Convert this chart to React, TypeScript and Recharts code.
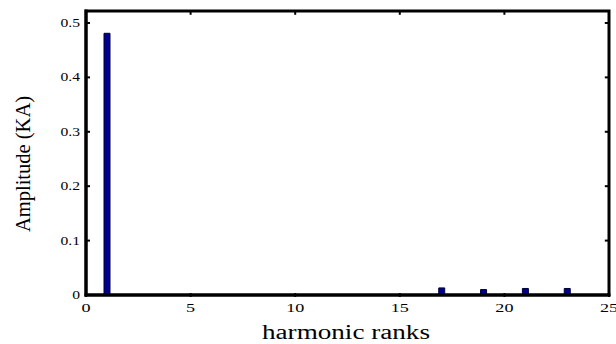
import React from 'react';
import { BarChart, Bar, XAxis, YAxis, Label, ReferenceArea, ReferenceLine } from 'recharts';

// harmonic spectrum: rank -> amplitude in kA
const ranks = [1, 17, 19, 21, 23];
const amplitudes = [0.481, 0.013, 0.01, 0.012, 0.012];
const xTicks = [0, 5, 10, 15, 20, 25];
const yTicks = [0, 0.1, 0.2, 0.3, 0.4, 0.5];

const X_MAX = 25;
const Y_MAX = 0.522;

const data = ranks.map((rank, i) => ({ rank, amp: amplitudes[i] }));

const FONT = '"Liberation Serif", "Times New Roman", serif';
const W = 616;
const H = 344;

// bottom axis: number under the axis plus a short inward stub
const BottomTick = (props: any) => {
  const { x, y, payload } = props;
  return (
    <g>
      <line x1={x} x2={x} y1={y - 4} y2={y - 8} stroke="#000" strokeWidth={2} />
      <text
        transform={`translate(${x},${y + 11}) scale(1.45,1)`}
        textAnchor="middle"
        style={{ fontFamily: FONT }}
        fontSize={12.5}
        fill="#000"
      >
        {payload.value}
      </text>
    </g>
  );
};

const LeftTick = (props: any) => {
  const { x, y, payload } = props;
  return (
    <g>
      <line x1={x + 6} x2={x + 10} y1={y} y2={y} stroke="#000" strokeWidth={2} />
      <text
        transform={`translate(${x},${y + 4}) scale(1.25,1)`}
        textAnchor="end"
        style={{ fontFamily: FONT }}
        fontSize={12.5}
        fill="#000"
      >
        {payload.value}
      </text>
    </g>
  );
};

const axisLine = { stroke: '#000', strokeWidth: 3, strokeLinecap: 'square' as const };

export default function App() {
  return (
    <div style={{ position: 'absolute', left: 0, top: 0, width: W, height: H, background: '#fff' }}>
      <BarChart width={W} height={H} data={data} margin={{ top: 11, right: 7, bottom: 0, left: 0 }}>
        <XAxis
          dataKey="rank"
          type="number"
          domain={[0, X_MAX]}
          ticks={xTicks}
          allowDataOverflow
          height={49}
          axisLine={axisLine}
          tickLine={false}
          tickSize={0}
          tickMargin={6}
          tick={<BottomTick />}
          interval={0}
        >
          <Label
            content={() => (
              <text
                x={346}
                y={339}
                textAnchor="middle"
                style={{ fontFamily: FONT }}
                fontSize={20}
                textLength={168}
                lengthAdjust="spacingAndGlyphs"
                fill="#000"
              >
                harmonic ranks
              </text>
            )}
          />
        </XAxis>
        <YAxis
          type="number"
          domain={[0, Y_MAX]}
          ticks={yTicks}
          allowDataOverflow
          width={86}
          axisLine={axisLine}
          tickLine={false}
          tickSize={0}
          tickMargin={6}
          tick={<LeftTick />}
          interval={0}
        >
          <Label
            content={() => (
              <text
                transform="translate(30,164) rotate(-90)"
                textAnchor="middle"
                style={{ fontFamily: FONT }}
                fontSize={20.5}
                fill="#000"
              >
                Amplitude (KA)
              </text>
            )}
          />
        </YAxis>
        {/* box frame around the plot */}
        <ReferenceArea
          x1={0}
          x2={X_MAX}
          y1={0}
          y2={Y_MAX}
          fill="none"
          stroke="#000"
          strokeWidth={3}
          ifOverflow="visible"
        />
        {/* inward tick stubs on the top and right sides */}
        {xTicks.slice(1, -1).map((t) => (
          <ReferenceLine
            key={`tx${t}`}
            segment={[
              { x: t, y: Y_MAX },
              { x: t, y: Y_MAX - 0.007 },
            ]}
            stroke="#000"
            strokeWidth={2}
            ifOverflow="visible"
          />
        ))}
        {yTicks.slice(1).map((t) => (
          <ReferenceLine
            key={`ty${t}`}
            segment={[
              { x: X_MAX, y: t },
              { x: X_MAX - 0.2, y: t },
            ]}
            stroke="#000"
            strokeWidth={2}
            ifOverflow="visible"
          />
        ))}
        <Bar
          dataKey="amp"
          barSize={6}
          fill="#00008f"
          stroke="#00003a"
          strokeWidth={1}
          isAnimationActive={false}
        />
      </BarChart>
    </div>
  );
}
